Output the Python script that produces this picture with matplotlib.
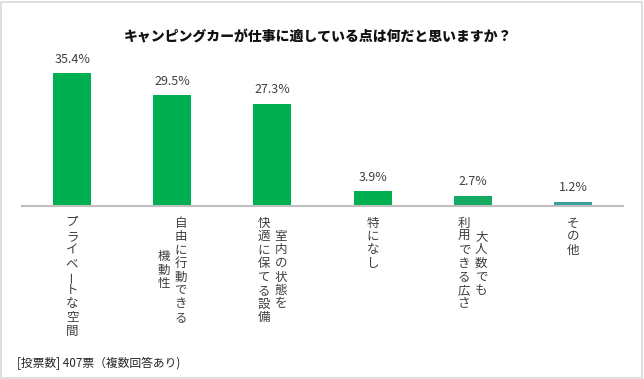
import matplotlib
matplotlib.use('Agg')
import matplotlib.pyplot as plt
from matplotlib.patches import Rectangle

plt.rcParams['font.family'] = ['Noto Sans CJK JP', 'DejaVu Sans']

title = 'キャンピングカーが仕事に適している点は何だと思いますか？'
# each label: columns from right to left (vertical writing)
labels = [
    ['プライベートな空間'],
    ['自由に行動できる', '機動性'],
    ['室内の状態を', '快適に保てる設備'],
    ['特になし'],
    ['大人数でも', '利用できる広さ'],
    ['その他'],
]
values = [35.4, 29.5, 27.3, 3.9, 2.7, 1.2]
note = '[投票数] 407票（複数回答あり)'

colors = ['#00B050', '#00B050', '#00B050', '#00B050', '#14AA62', '#3A9E98']

fig = plt.figure(figsize=(6.44, 3.79), dpi=100)
W, H = 644, 379
ax = fig.add_axes([22 / W, 1 - 206 / H, (623 - 22) / W, (206 - 40) / H])

x = list(range(len(values)))
ax.bar(x, values, width=0.38, color=colors)
ax.set_xlim(-0.5, len(values) - 0.5)
ax.set_ylim(0, 44.3)

for i, v in enumerate(values):
    ax.annotate(f'{v:.1f}%', xy=(i, v), xytext=(0, 14), textcoords='offset pixels',
                ha='center', va='center', fontsize=9, color='#404040')

# vertical category labels
pitch = 13.5
for i, cols in enumerate(labels):
    n = len(cols)
    longest = max(len(c) for c in cols)
    for k, col in enumerate(cols):
        dx = (n - 1) / 2 * 17 - k * 17
        start = (longest - len(col)) / 2
        for j, ch in enumerate(col):
            rot = 90 if ch == 'ー' else 0
            ax.annotate(ch, xy=(i, 0), xytext=(dx, -17 - (start + j) * pitch),
                        textcoords='offset pixels', ha='center', va='center',
                        fontsize=9, color='#404040', rotation=rot)

for s in ['top', 'right', 'left']:
    ax.spines[s].set_visible(False)
ax.spines['bottom'].set_color('#BFBFBF')
ax.spines['bottom'].set_linewidth(1.5)
ax.set_xticks([])
ax.set_yticks([])

fig.text(318 / W, 1 - 37 / H, title, ha='center', va='center',
         fontsize=10, fontweight='heavy', color='#111111')
fig.text(17 / W, 1 - 363 / H, note, ha='left', va='center',
         fontsize=8.5, color='#262626')

fig.patches.append(Rectangle((1 / W, 1 / H), 1 - 3 / W, 1 - 3 / H, transform=fig.transFigure,
                             fill=False, edgecolor='#D9D9D9', linewidth=1.2))

fig.savefig('out.png', dpi=100)
